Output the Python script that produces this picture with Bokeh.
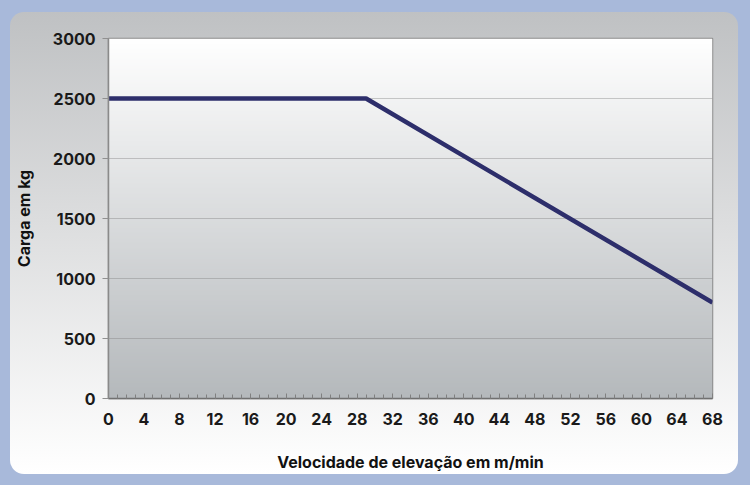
import numpy as np
from bokeh.plotting import figure
from bokeh.layouts import column
from bokeh.models import Range1d, FixedTicker
from bokeh.embed import file_html
from bokeh.resources import INLINE

# ---- data ----
speed = [0, 29, 68]            # Velocidade de elevação (m/min)
load = [2500, 2500, 800]       # Carga (kg)
x_ticks = list(range(0, 69, 4))
y_ticks = [0, 500, 1000, 1500, 2000, 2500, 3000]
X_START, X_END = 0, 68
Y_START, Y_END = 0, 3000

FONT = "Inter"

p = figure(width=728, height=462, output_backend="svg", toolbar_location=None,
           x_range=Range1d(X_START, X_END), y_range=Range1d(Y_START, Y_END),
           min_border_left=98, min_border_right=26, min_border_top=26, min_border_bottom=76)

p.border_fill_color = None
p.border_fill_alpha = 0
p.background_fill_color = None
p.outline_line_color = "#8a8a8a"
p.outline_line_width = 1.5
p.styles = {"border-radius": "14px",
            "background": "linear-gradient(to bottom, #bfc1c3 0%, #dcddde 45%, #ffffff 100%)"}

# plot-area gradient (white at top to grey at bottom)
n = 256
top = np.array([255, 255, 255], dtype=float)
bot = np.array([181, 185, 188], dtype=float)
t = np.linspace(0, 1, n)[:, None]
rgb = (bot * (1 - t) + top * t).astype(np.uint32)
img = (255 << 24) | (rgb[:, 2] << 16) | (rgb[:, 1] << 8) | rgb[:, 0]
img = img.reshape(n, 1).astype(np.uint32)
p.image_rgba(image=[img], x=X_START, y=Y_START, dw=X_END - X_START, dh=Y_END - Y_START,
             level="image")

p.line(speed, load, line_color="#2d2e6b", line_width=4.5)

# grid
p.xgrid.grid_line_color = None
p.ygrid.grid_line_color = "#808080"
p.ygrid.grid_line_alpha = 0.4
p.ygrid.grid_line_width = 1

# x axis
xa = p.xaxis[0]
xa.ticker = FixedTicker(ticks=x_ticks, minor_ticks=list(range(X_START, X_END + 1)))
xa.axis_line_color = "#707070"
xa.axis_line_width = 1.5
xa.major_tick_in = 5
xa.major_tick_out = 0
xa.minor_tick_in = 4
xa.minor_tick_out = 0
xa.major_tick_line_color = "#808080"
xa.minor_tick_line_color = "#808080"
xa.major_label_standoff = 14
xa.major_label_text_font = FONT
xa.major_label_text_font_size = "16px"
xa.major_label_text_font_style = "bold"
xa.major_label_text_color = "#1a1a1a"
xa.axis_label = "Velocidade de elevação em m/min"
xa.axis_label_text_font = FONT
xa.axis_label_text_font_size = "16px"
xa.axis_label_text_font_style = "bold"
xa.axis_label_text_color = "#111111"
xa.axis_label_standoff = 24

# y axis
ya = p.yaxis[0]
ya.ticker = FixedTicker(ticks=y_ticks)
ya.axis_line_color = "#8a8a8a"
ya.axis_line_width = 1.5
ya.major_tick_in = 0
ya.major_tick_out = 6
ya.minor_tick_in = 0
ya.minor_tick_out = 0
ya.major_tick_line_color = "#909090"
ya.major_label_standoff = 7
ya.major_label_text_font = FONT
ya.major_label_text_font_size = "16px"
ya.major_label_text_font_style = "bold"
ya.major_label_text_color = "#1a1a1a"
ya.axis_label = "Carga em kg"
ya.axis_label_text_font = FONT
ya.axis_label_text_font_size = "16px"
ya.axis_label_text_font_style = "bold"
ya.axis_label_text_color = "#111111"
ya.axis_label_standoff = 16

layout = column(p, styles={"background-color": "#a8b9da",
                           "padding": "12px 12px 11px 10px"})

open("out.html", "w").write(file_html(layout, INLINE))
